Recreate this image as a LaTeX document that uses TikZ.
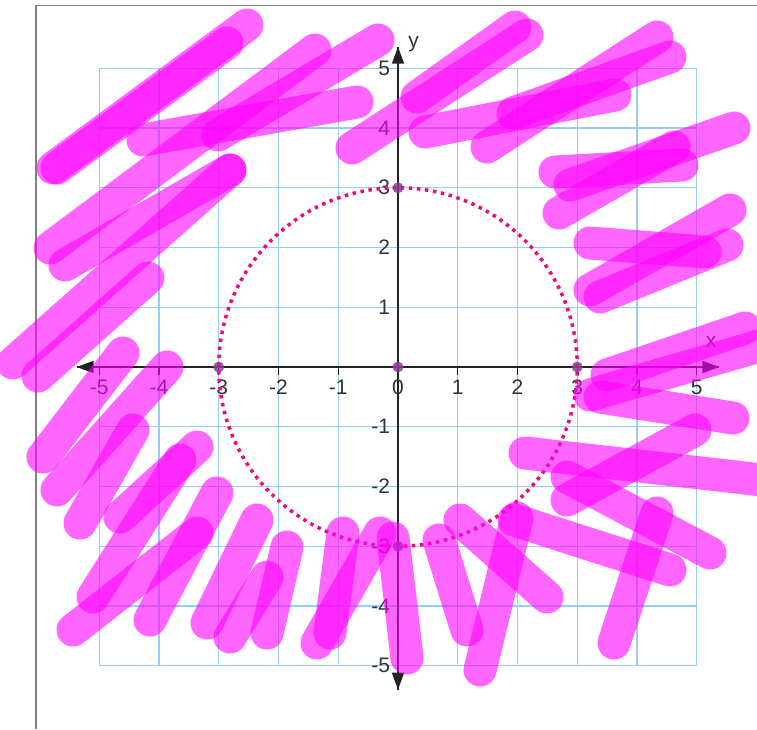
\documentclass[tikz,border=0pt]{standalone}
\usepackage{fontspec}
\setmainfont{Liberation Sans}
\usetikzlibrary{arrows.meta}
\definecolor{gridblue}{RGB}{150,205,250}
\definecolor{axisdark}{RGB}{34,34,34}
\definecolor{labeldark}{RGB}{51,51,51}
\definecolor{circpink}{RGB}{240,10,120}
\definecolor{ptpurple}{RGB}{140,60,150}
\definecolor{magentaink}{RGB}{255,0,255}
\tikzset{
  pk/.style={line width=33pt, line cap=round, draw=magentaink, draw opacity=0.6},
  gridline/.style={gridblue, line width=1.3pt},
  axisline/.style={axisdark, line width=1.6pt, -{Triangle[length=17pt,width=12pt]}},
  ticklbl/.style={text=labeldark, font=\fontsize{21}{21}\selectfont, inner sep=0pt},
  frameline/.style={gray, line width=1.6pt},
  ptdot/.style={fill=ptpurple, fill opacity=0.85}
}
\begin{document}
\begin{tikzpicture}[x=1pt,y=-1pt]
\useasboundingbox (0,0) rectangle (757,729);
\fill[white] (0,0) rectangle (757,729);
\draw[frameline] (36,729) -- (36,5.5) -- (757,5.5);
\begin{scope}[shift={(398,367)}, x=59.75pt, y=59.75pt]
  \foreach \i in {-5,...,5} {
    \draw[gridline] (\i,-5) -- (\i,5);
    \draw[gridline] (-5,\i) -- (5,\i);
  }
  \coordinate (xl) at (-5.38,0);
  \coordinate (xr) at (5.38,0);
  \coordinate (yb) at (0,-5.4);
  \coordinate (yt) at (0,5.36);
  \draw[axisline] (xr) -- (xl);
  \draw[axisline] (xl) -- (xr);
  \draw[axisline] (yb) -- (yt);
  \draw[axisline] (yt) -- (yb);
  \foreach \i in {-5,...,-1,1,2,...,5} {
    \draw[axisdark, line width=1.3pt] (\i,0) -- (\i,-0.13);
    \node[ticklbl] (xt\i) at (\i,-0.34) {\i};
    \node[ticklbl, anchor=east] (yt\i) at (-0.13,\i) {\i};
  }
  \node[ticklbl] (xt0) at (0,-0.34) {0};
  \node[ticklbl] (xlab) at (5.24,0.42) {x};
  \node[ticklbl] (ylab) at (0.26,5.4) {y};
  \draw[circpink, line width=3.5pt, dash pattern=on 3.5pt off 4.6pt] (0,0) circle (3);
  \foreach \p in {(0,0),(3,0),(-3,0),(0,3),(0,-3)} \fill[ptdot] \p circle (5.5pt);
\end{scope}
\foreach \a/\b/\c/\d in {
 53/168/247/25, 57/168/227/43, 143/140/357/102, 218/135/378/40,
 315/50/50/248, 230/170/65/265,
 352/148/527/35, 417/97/515/27, 425/132/615/95, 487/147/657/37, 513/113/670/57,
 555/172/682/165, 570/185/734/128, 559/213/674/147,
 590/243/705/252, 590/290/730/210, 600/297/727/245,
 607/375/745/328, 590/395/780/340, 600/397/733/418,
 525/453/780/482, 567/500/695/430, 567/477/710/553, 514/520/670/570,
 657/513/614/643, 460/520/547/597, 517/518/480/670, 439/540/467/630,
 393/538/407/658, 380/533/317/643, 343/533/330/633, 287/547/267/633,
 257/520/207/623, 267/577/230/637, 217/493/150/620, 197/533/73/630,
 180/460/93/597, 197/447/120/517, 133/430/80/523, 167/367/57/490,
 123/353/43/457, 148/278/38/376, 230/170/13/363}
 \draw[pk] (\a,\b) -- (\c,\d);
\end{tikzpicture}
\end{document}
